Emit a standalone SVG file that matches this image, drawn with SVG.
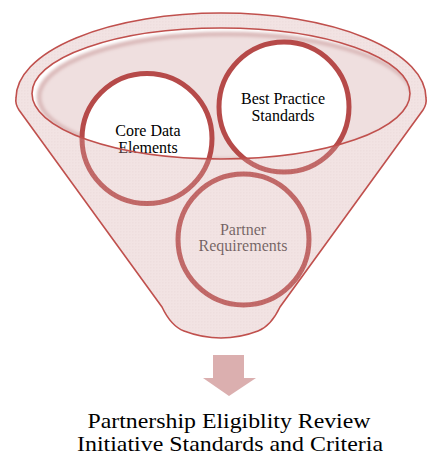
<svg xmlns="http://www.w3.org/2000/svg" width="428" height="456" viewBox="0 0 428 456">
  <style>
    .lbl { font-family: "Liberation Serif", "Times New Roman", serif; font-size: 16px; fill: #000000; text-anchor: middle; }
    .title { font-family: "Liberation Serif", "Times New Roman", serif; font-size: 21.5px; fill: #000000; text-anchor: middle; }
    .ring { fill: #ffffff; stroke: #b64a49; stroke-width: 5; }
    .edge { fill: none; stroke: #c0504d; stroke-width: 1.6; }
  </style>
  <defs>
    <clipPath id="innerClip">
      <ellipse cx="221" cy="93.5" rx="189" ry="65.5"/>
    </clipPath>
    <filter id="soft" x="-5%" y="-10%" width="110%" height="120%">
      <feGaussianBlur stdDeviation="1.6"/>
    </filter>
    <pattern id="tex" width="3" height="3" patternUnits="userSpaceOnUse">
      <rect width="3" height="3" fill="#d9aaaa"/>
      <rect width="1.5" height="1.5" fill="#cc9a9a"/>
    </pattern>
  </defs>

  <g id="funnel-inner">
    <ellipse cx="221" cy="93.5" rx="189" ry="65.5" fill="#ffffff"/>
    <g clip-path="url(#innerClip)">
      <ellipse cx="226" cy="97" rx="187" ry="63" fill="#efdfdf" stroke="#dcbcbc" stroke-width="5" filter="url(#soft)"/>
    </g>
  </g>

  <g id="node-core">
    <circle class="ring" cx="147" cy="138.5" r="65"/>
    <text class="lbl" x="148" y="136">Core Data</text>
    <text class="lbl" x="148" y="153">Elements</text>
  </g>

  <g id="node-best">
    <circle class="ring" cx="284" cy="107" r="65"/>
    <text class="lbl" x="283" y="104">Best Practice</text>
    <text class="lbl" x="283" y="121">Standards</text>
  </g>

  <g id="node-partner">
    <circle class="ring" cx="243.5" cy="239.5" r="65.5"/>
    <text class="lbl" x="243" y="235" fill-opacity="0.75">Partner</text>
    <text class="lbl" x="243" y="251" fill-opacity="0.75">Requirements</text>
  </g>

  <g id="funnel-body">
    <path fill="url(#tex)" fill-opacity="0.33" fill-rule="evenodd"
      d="M 162,307 L 19,110 Q 15,104 16,98 A 205 85 0 0 1 426,98 Q 427,104 423,110 L 280,307 Q 271,326 258,331 Q 221,345 184,331 Q 171,326 162,307 Z
         M 32,93.5 A 189 65.5 0 0 0 410,93.5 A 189 65.5 0 0 0 32,93.5 Z"/>
    <path class="edge"
      d="M 162,307 L 19,110 Q 15,104 16,98 A 205 85 0 0 1 426,98 Q 427,104 423,110 L 280,307 Q 271,326 258,331 Q 221,345 184,331 Q 171,326 162,307 Z"/>
    <ellipse class="edge" cx="221" cy="93.5" rx="189" ry="65.5"/>
  </g>

  <g id="connectors">
    <polygon points="213,355 244,355 244,378 256,378 229,396 203,378 213,378" fill="#dbafaf"/>
  </g>

  <g id="result">
    <text class="title" x="229" y="427.5" textLength="283" lengthAdjust="spacingAndGlyphs">Partnership Eligiblity Review</text>
    <text class="title" x="230" y="451.3" textLength="306" lengthAdjust="spacingAndGlyphs">Initiative Standards and Criteria</text>
  </g>
</svg>
